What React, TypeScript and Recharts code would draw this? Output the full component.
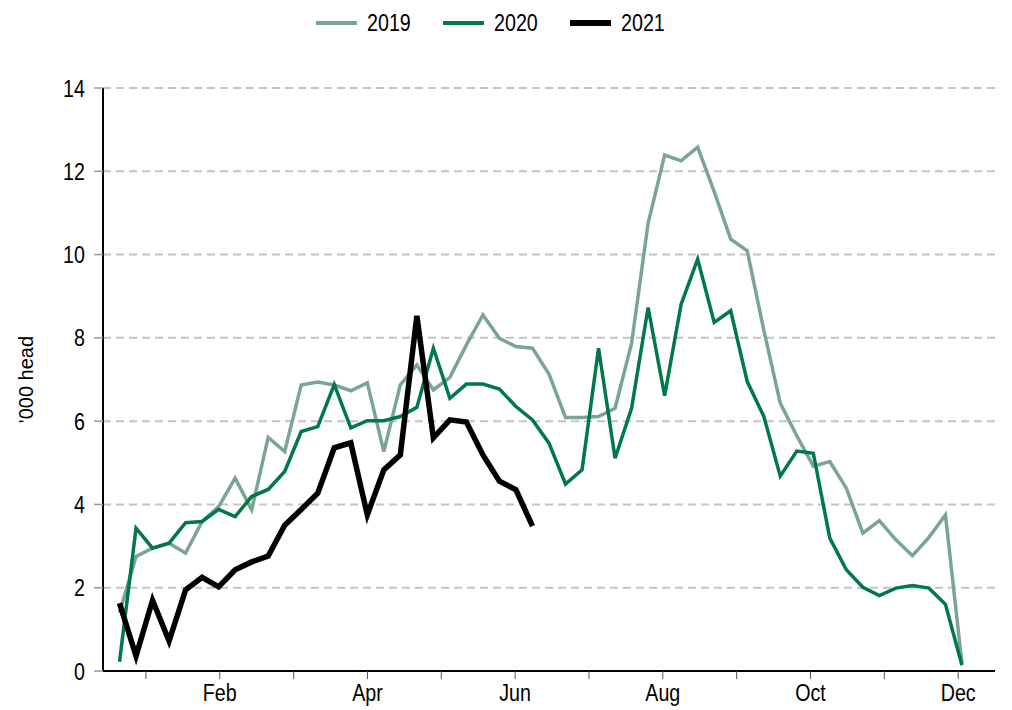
import React from 'react';
import {
  LineChart,
  Line,
  XAxis,
  YAxis,
  CartesianGrid,
  Legend,
  Label,
} from 'recharts';

const FONT = '"Liberation Sans", Arial, sans-serif';
const SQUEEZE = 0.82; // the original type is a narrow face

const weeks = [
  1, 2, 3, 4, 5, 6, 7, 8, 9, 10, 11, 12, 13, 14, 15, 16, 17, 18, 19, 20, 21, 22, 23, 24, 25, 26,
  27, 28, 29, 30, 31, 32, 33, 34, 35, 36, 37, 38, 39, 40, 41, 42, 43, 44, 45, 46, 47, 48, 49, 50,
  51, 52,
];

const values2019 = [
  1.4, 2.75, 2.95, 3.07, 2.83, 3.59, 3.95, 4.63, 3.87, 5.61, 5.27, 6.87, 6.94, 6.87, 6.73, 6.92,
  5.27, 6.87, 7.35, 6.75, 7.05, 7.83, 8.55, 7.99, 7.79, 7.75, 7.13, 6.09, 6.09, 6.11, 6.31, 7.87,
  10.75, 12.39, 12.25, 12.58, 11.51, 10.37, 10.09, 8.19, 6.43, 5.65, 4.92, 5.03, 4.39, 3.31, 3.61,
  3.15, 2.77, 3.21, 3.75, 0.18,
];

const values2020 = [
  0.22, 3.43, 2.95, 3.07, 3.56, 3.59, 3.88, 3.71, 4.19, 4.36, 4.79, 5.75, 5.87, 6.88, 5.84, 6.01,
  6.01, 6.11, 6.33, 7.75, 6.55, 6.89, 6.89, 6.77, 6.35, 6.03, 5.47, 4.49, 4.83, 7.75, 5.11, 6.31,
  8.73, 6.61, 8.81, 9.89, 8.37, 8.65, 6.95, 6.12, 4.68, 5.28, 5.23, 3.19, 2.43, 2.01, 1.81, 1.99,
  2.05, 1.99, 1.6, 0.14,
];

const values2021 = [
  1.63, 0.36, 1.7, 0.72, 1.95, 2.25, 2.02, 2.43, 2.62, 2.76, 3.5, 3.88, 4.27, 5.36, 5.48, 3.75,
  4.83, 5.19, 8.53, 5.6, 6.03, 5.98, 5.19, 4.56, 4.35, 3.48,
];

// month ticks (mid-month, in weeks)
const monthTicks = [2.6, 7.07, 11.54, 16.01, 20.48, 24.95, 29.42, 33.89, 38.36, 42.83, 47.3, 51.77];
const monthLabels = ['', 'Feb', '', 'Apr', '', 'Jun', '', 'Aug', '', 'Oct', '', 'Dec'];

const yTicks = [0, 2, 4, 6, 8, 10, 12, 14];

const series = [
  { key: '2019', color: '#7ba593', width: 3.5 },
  { key: '2020', color: '#00784a', width: 3.5 },
  { key: '2021', color: '#000000', width: 5.5 },
];

const data = weeks.map((w, i) => ({
  week: w,
  '2019': values2019[i],
  '2020': values2020[i],
  '2021': values2021[i],
}));

function NarrowTick(props: any) {
  const { x, y, payload, axis } = props;
  const isX = axis === 'x';
  const label = isX ? monthLabels[monthTicks.indexOf(payload.value)] : String(payload.value);
  if (!label) return null;
  return (
    <g transform={`translate(${x},${y})`}>
      <text
        transform={`scale(${SQUEEZE},1)`}
        textAnchor={isX ? 'middle' : 'end'}
        dy={isX ? '0.71em' : '0.355em'}
        fontSize={24}
        fontFamily={FONT}
        fill="#000"
      >
        {label}
      </text>
    </g>
  );
}

function LegendRow({ payload }: any) {
  return (
    <div style={{ display: 'flex', justifyContent: 'center', alignItems: 'center', fontFamily: FONT, height: 28, paddingRight: 29 }}>
      {(payload || []).map((p: any, i: number) => {
        const s = series.find(x => x.key === p.value);
        return (
          <div key={p.value} style={{ display: 'flex', alignItems: 'center', marginLeft: i === 0 ? 0 : 30 }}>
            <div style={{ width: 41, height: s && s.width > 4 ? 6 : 4, background: p.color, marginRight: 10 }} />
            <div style={{ width: 46, overflow: 'visible', whiteSpace: 'nowrap' }}>
              <span
                style={{
                  display: 'inline-block',
                  fontSize: 24,
                  color: '#000',
                  transform: `scaleX(${SQUEEZE})`,
                  transformOrigin: 'left center',
                }}
              >
                {p.value}
              </span>
            </div>
          </div>
        );
      })}
    </div>
  );
}

export default function App() {
  return (
    <div style={{ position: 'absolute', left: 0, top: 0, width: 1012, height: 710, background: '#fff', fontFamily: FONT }}>
      <LineChart width={1012} height={710} data={data} margin={{ top: 60, right: 17, left: 0, bottom: 4 }}>
        <CartesianGrid vertical={false} stroke="#c4c4c4" strokeWidth={2} strokeDasharray="8 5" />
        <XAxis
          dataKey="week"
          type="number"
          domain={[0, 54]}
          ticks={monthTicks}
          height={35}
          axisLine={{ stroke: '#000', strokeWidth: 2 }}
          tickLine={{ stroke: '#555' }}
          tickSize={8}
          tickMargin={5}
          tick={<NarrowTick axis="x" />}
          interval={0}
        />
        <YAxis
          domain={[0, 14]}
          ticks={yTicks}
          width={103}
          axisLine={{ stroke: '#000', strokeWidth: 2 }}
          tickLine={{ stroke: '#9a9a9a', strokeWidth: 1.5 }}
          tickSize={9}
          tickMargin={9}
          tick={<NarrowTick axis="y" />}
          interval={0}
        >
          <Label
            content={({ viewBox }: any) => {
              const cx = 26;
              const cy = viewBox.y + viewBox.height / 2;
              return (
                <text
                  x={cx}
                  y={cy}
                  transform={`rotate(-90 ${cx} ${cy})`}
                  textAnchor="middle"
                  dominantBaseline="central"
                  fontSize={20}
                  fontFamily={FONT}
                  fill="#000"
                >
                  '000 head
                </text>
              );
            }}
          />
        </YAxis>
        <Legend verticalAlign="top" content={<LegendRow />} wrapperStyle={{ top: 9, left: 0, width: 1012 }} />
        {series.map(s => (
          <Line
            key={s.key}
            type="linear"
            dataKey={s.key}
            stroke={s.color}
            strokeWidth={s.width}
            dot={false}
            activeDot={false}
            isAnimationActive={false}
          />
        ))}
      </LineChart>
    </div>
  );
}
